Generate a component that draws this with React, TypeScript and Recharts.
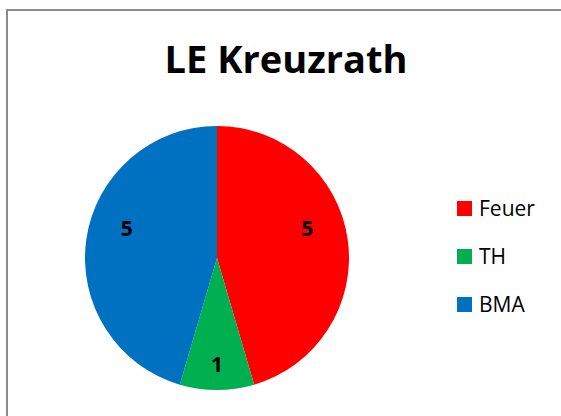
import React from "react";
import { Legend, Pie, PieChart, Cell } from "recharts";

const categories = ["Feuer", "TH", "BMA"];
const counts = [5, 1, 5];
const colors = ["#FF0000", "#00B050", "#0070C0"];

const data = categories.map((name, i) => ({ name, value: counts[i] }));

const FONT = "'Open Sans', 'Noto Sans', sans-serif";
const RAD = Math.PI / 180;

// roughly Excel's "best fit": small slices get their label further out,
// big ones sit a bit higher up
const renderLabel = (props: any) => {
  const { cx, cy, outerRadius, midAngle, percent, value } = props;
  const small = percent < 0.2;
  const r = outerRadius * (small ? 0.8 : 0.72);
  let a = midAngle;
  if (!small) a = Math.cos(a * RAD) >= 0 ? a + 10 : a - 10;
  const x = cx + r * Math.cos(a * RAD);
  const y = cy - r * Math.sin(a * RAD);
  return (
    <text
      x={x}
      y={y}
      textAnchor="middle"
      dominantBaseline="central"
      fontFamily={FONT}
      fontWeight="bold"
      fontSize={21}
      fill="#000"
    >
      {value}
    </text>
  );
};

const LegendBox = () => (
  <div style={{ fontFamily: FONT, fontSize: 21, color: "#000" }}>
    {data.map((d, i) => (
      <div
        key={d.name}
        style={{ display: "flex", alignItems: "center", height: 48 }}
      >
        <span
          style={{
            display: "inline-block",
            width: 15,
            height: 15,
            background: colors[i],
            marginRight: 7,
          }}
        />
        <span>{d.name}</span>
      </div>
    ))}
  </div>
);

const App = () => {
  return (
    <div
      style={{
        position: "fixed",
        left: 0,
        top: 0,
        width: 561,
        height: 416,
        overflow: "hidden",
        background: "#fff",
      }}
    >
      <div
        style={{
          position: "absolute",
          left: 6,
          top: 9,
          width: 620,
          height: 460,
          border: "2px solid #8c8c8c",
          boxSizing: "border-box",
        }}
      />
      <div
        style={{
          position: "absolute",
          left: 0,
          top: 32,
          width: 572,
          textAlign: "center",
          fontFamily: FONT,
          fontWeight: "bold",
          fontSize: 38,
          lineHeight: "52px",
        }}
      >
        LE Kreuzrath
      </div>
      <PieChart
        width={561}
        height={416}
        margin={{ top: 0, right: 0, bottom: 0, left: 0 }}
        style={{ position: "absolute", left: 0, top: 0 }}
      >
        <Pie
          data={data}
          dataKey="value"
          nameKey="name"
          cx={217}
          cy={258}
          outerRadius={132}
          startAngle={90}
          endAngle={-270}
          stroke="none"
          label={renderLabel}
          labelLine={false}
          isAnimationActive={false}
        >
          {data.map((d, i) => (
            <Cell key={d.name} fill={colors[i]} />
          ))}
        </Pie>
        <Legend
          content={<LegendBox />}
          layout="vertical"
          wrapperStyle={{ left: 457, top: 184, width: 100 }}
        />
      </PieChart>
    </div>
  );
};

export default App;
